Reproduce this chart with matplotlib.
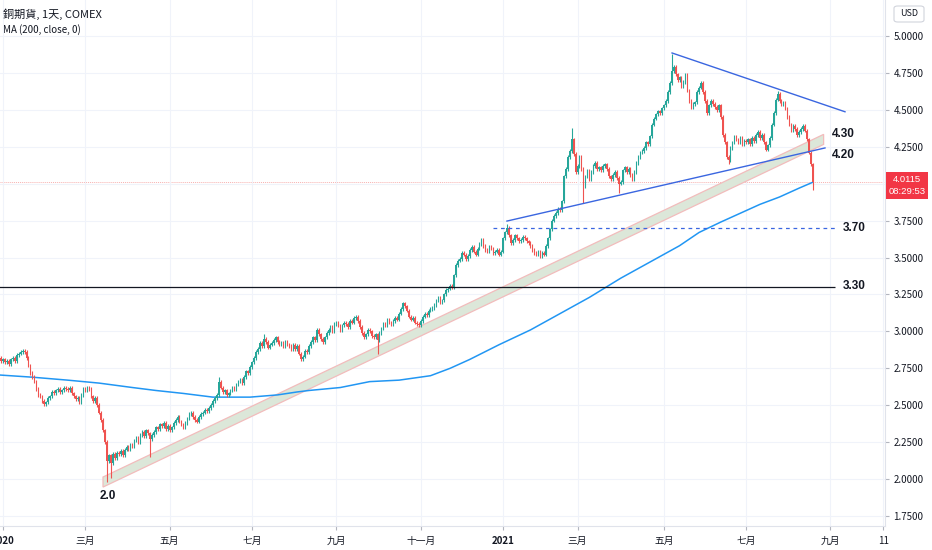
import numpy as np
import matplotlib
matplotlib.use("Agg")
import matplotlib.pyplot as plt
from matplotlib.patches import Polygon, Rectangle, FancyBboxPatch

# cierres diarios (HG, COMEX), una lista por mes
dic19 = [2.82, 2.80]
ene20 = [2.81, 2.79, 2.80, 2.78, 2.81, 2.82, 2.80, 2.84, 2.85, 2.86, 2.87, 2.86, 2.82, 2.77, 2.72, 2.69, 2.66, 2.61, 2.57, 2.56, 2.53, 2.51]
feb20 = [2.52, 2.55, 2.56, 2.59, 2.58, 2.60, 2.61, 2.59, 2.60, 2.62, 2.61, 2.60, 2.62, 2.58, 2.56, 2.54, 2.55, 2.52, 2.57, 2.61]
mar20 = [2.60, 2.62, 2.61, 2.56, 2.53, 2.55, 2.50, 2.45, 2.40, 2.33, 2.25, 2.12, 2.16, 2.11, 2.17, 2.14, 2.18, 2.17, 2.19, 2.16, 2.20, 2.22]
abr20 = [2.20, 2.23, 2.22, 2.26, 2.28, 2.25, 2.30, 2.32, 2.29, 2.33, 2.31, 2.27, 2.30, 2.32, 2.35, 2.34, 2.37, 2.36, 2.38, 2.34, 2.36]
may20 = [2.33, 2.35, 2.38, 2.40, 2.42, 2.39, 2.37, 2.35, 2.38, 2.41, 2.44, 2.45, 2.42, 2.40, 2.39, 2.42, 2.44, 2.45, 2.47, 2.46]
jun20 = [2.48, 2.50, 2.53, 2.55, 2.57, 2.66, 2.62, 2.59, 2.60, 2.57, 2.58, 2.60, 2.62, 2.61, 2.64, 2.66, 2.67, 2.65, 2.69, 2.73, 2.72, 2.76]
jul20 = [2.79, 2.82, 2.86, 2.88, 2.92, 2.90, 2.95, 2.93, 2.89, 2.91, 2.92, 2.94, 2.96, 2.93, 2.91, 2.92, 2.90, 2.93, 2.91, 2.90, 2.88, 2.91]
ago20 = [2.88, 2.90, 2.85, 2.81, 2.83, 2.87, 2.86, 2.90, 2.93, 2.96, 2.94, 3.01, 2.98, 2.95, 2.93, 2.96, 2.99, 3.01, 3.03, 3.00, 3.05]
sep20 = [3.06, 3.04, 3.01, 3.04, 3.06, 3.05, 3.03, 3.07, 3.06, 3.09, 3.10, 3.07, 3.03, 2.99, 2.96, 2.98, 3.01, 3.00, 2.97, 2.96, 2.98]
oct20 = [2.94, 2.99, 3.02, 3.05, 3.04, 3.08, 3.06, 3.05, 3.07, 3.09, 3.08, 3.12, 3.15, 3.19, 3.17, 3.14, 3.10, 3.08, 3.09, 3.06, 3.05, 3.04]
nov20 = [3.07, 3.10, 3.12, 3.11, 3.14, 3.15, 3.16, 3.18, 3.21, 3.23, 3.20, 3.21, 3.25, 3.28, 3.29, 3.31, 3.30, 3.38, 3.45, 3.48]
dic20 = [3.49, 3.53, 3.52, 3.49, 3.51, 3.55, 3.57, 3.54, 3.52, 3.56, 3.59, 3.62, 3.58, 3.55, 3.54, 3.57, 3.56, 3.53, 3.54, 3.55, 3.52, 3.54]
ene21 = [3.63, 3.67, 3.70, 3.65, 3.60, 3.62, 3.65, 3.63, 3.61, 3.62, 3.64, 3.63, 3.61, 3.60, 3.58, 3.55, 3.53, 3.52, 3.54]
feb21 = [3.51, 3.53, 3.52, 3.58, 3.63, 3.69, 3.75, 3.78, 3.80, 3.83, 3.82, 3.88, 4.05, 4.10, 4.18, 4.22, 4.30, 4.20, 4.08]
mar21 = [4.12, 4.18, 4.10, 3.98, 4.05, 4.09, 4.03, 4.08, 4.12, 4.14, 4.10, 4.11, 4.09, 4.12, 4.13, 4.10, 4.05, 4.03, 4.06, 4.08, 4.04, 4.00, 4.01]
abr21 = [4.09, 4.11, 4.08, 4.10, 4.06, 4.03, 4.08, 4.14, 4.18, 4.21, 4.22, 4.24, 4.28, 4.27, 4.32, 4.40, 4.44, 4.47, 4.49, 4.48, 4.51]
may21 = [4.53, 4.56, 4.62, 4.68, 4.76, 4.79, 4.74, 4.70, 4.72, 4.66, 4.69, 4.74, 4.63, 4.56, 4.52, 4.54, 4.55, 4.62, 4.65, 4.68]
jun21 = [4.62, 4.56, 4.48, 4.53, 4.56, 4.54, 4.52, 4.50, 4.53, 4.45, 4.33, 4.28, 4.18, 4.16, 4.24, 4.28, 4.32, 4.30, 4.28, 4.31, 4.27, 4.29]
jul21 = [4.28, 4.30, 4.27, 4.31, 4.29, 4.33, 4.35, 4.31, 4.33, 4.28, 4.23, 4.26, 4.31, 4.40, 4.48, 4.57, 4.61, 4.56, 4.54, 4.55, 4.51]
ago21 = [4.45, 4.40, 4.36, 4.39, 4.37, 4.33, 4.35, 4.37, 4.39, 4.36, 4.30, 4.21, 4.13, 4.0115]

apertura_inicial = 2.83

meses = [dic19, ene20, feb20, mar20, abr20, may20, jun20, jul20, ago20, sep20, oct20, nov20,
         dic20, ene21, feb21, mar21, abr21, may21, jun21, jul21, ago21]
nombres = ["dic19", "ene20", "feb20", "mar20", "abr20", "may20", "jun20", "jul20", "ago20", "sep20", "oct20",
           "nov20", "dic20", "ene21", "feb21", "mar21", "abr21", "may21", "jun21", "jul21", "ago21"]
etiquetas_mes = {"ene20": "2020", "mar20": "三月", "may20": "五月", "jul20": "七月", "sep20": "九月",
                 "nov20": "十一月", "ene21": "2021", "mar21": "三月", "may21": "五月", "jul21": "七月"}
# marcas futuras: barras despues de la ultima vela
futuro_barras = [9, 36]
futuro_etiquetas = ["九月", "11"]

# mechas largas visibles (mes, posicion, precio)
mechas_altas = [("jun20", 5, 2.69), ("jul20", 6, 2.98), ("ene21", 2, 3.73), ("feb21", 16, 4.38),
                ("may21", 4, 4.88), ("jul21", 16, 4.63)]
mechas_bajas = [("mar20", 11, 1.98), ("mar20", 13, 2.01), ("abr20", 11, 2.15), ("oct20", 0, 2.85),
                ("mar21", 3, 3.87), ("mar21", 21, 3.94), ("jun21", 13, 4.13), ("ago21", 13, 3.96)]

# media movil 200 (indice de barra, valor)
ma_barra = [0, 17, 35, 51, 68, 80, 94, 109, 128, 142, 152, 158, 174, 189, 204, 220, 230, 240,
            255, 271, 286, 301, 317, 332, 347, 357, 368, 378, 388, 398, 408, 415]
ma_valor = [2.705, 2.69, 2.67, 2.65, 2.62, 2.60, 2.58, 2.555, 2.555, 2.57, 2.59, 2.60, 2.62, 2.66, 2.67, 2.70,
            2.75, 2.81, 2.91, 3.01, 3.12, 3.23, 3.36, 3.47, 3.58, 3.67, 3.74, 3.80, 3.86, 3.91, 3.97, 4.01]

# lineas dibujadas (barra, precio)
soporte = ([259, 421.2], [3.747, 4.242])
resistencia = ([343.2, 431.4], [4.885, 4.487])
canal = ([53, 420.5], [1.98, 4.30])
canal_grosor = 0.068
nivel_330 = (3.30, 0, 426.3)
nivel_370 = (3.70, 252, 426.3)
textos = [("4.30", 424.7, 4.335), ("4.20", 424.7, 4.195), ("3.70", 430.3, 3.70),
          ("3.30", 430.3, 3.305), ("2.0", 51.5, 1.885)]

precio_actual = "4.0115"
cuenta_atras = "08:29:53"

plt.rcParams['font.family'] = ['Noto Sans CJK TC', 'DejaVu Sans']

verde = "#26a69a"
rojo = "#ef5350"
mecha = 0.012

cierres = np.concatenate([np.array(m, dtype=float) for m in meses])
n = len(cierres)
x = np.arange(n)
aperturas = np.r_[apertura_inicial, cierres[:-1]]
inicio = dict(zip(nombres, np.cumsum([0] + [len(m) for m in meses[:-1]])))

altos = np.maximum(aperturas, cierres) + mecha
bajos = np.minimum(aperturas, cierres) - mecha
for mes, k, p in mechas_altas:
    altos[inicio[mes] + k] = p
for mes, k, p in mechas_bajas:
    bajos[inicio[mes] + k] = p

fig = plt.figure(figsize=(9.32, 5.5), dpi=100)
ax = fig.add_axes([0, 24 / 550, 885 / 932, 526 / 550])

sube = cierres >= aperturas
colores = np.where(sube, verde, rojo)
cuerpo = np.abs(cierres - aperturas)
cuerpo = np.maximum(cuerpo, 0.005)
ax.vlines(x, bajos, altos, colors=colores, lw=0.8, zorder=4)
ax.bar(x, cuerpo, bottom=np.minimum(aperturas, cierres), width=0.72, color=colores, lw=0, zorder=5)

# media movil
ax.plot(ma_barra, ma_valor, color="#2196f3", lw=1.1, zorder=3)

# canal diagonal
x0, x1 = canal[0]
y0, y1 = canal[1]
g = canal_grosor / 2
banda = Polygon([(x0, y0 - g), (x1, y1 - g), (x1, y1 + g), (x0, y0 + g)], closed=True,
                facecolor="#dce7d9", edgecolor="#f2bcbc", lw=0.9, zorder=2)
ax.add_patch(banda)

ax.plot(soporte[0], soporte[1], color="#3a66e0", lw=1.0, zorder=6)
ax.plot(resistencia[0], resistencia[1], color="#3a66e0", lw=1.0, zorder=6)
ax.hlines(nivel_330[0], nivel_330[1], nivel_330[2], color="#131722", lw=0.9, zorder=6)
ax.hlines(nivel_370[0], nivel_370[1], nivel_370[2], color="#3a66e0", lw=0.9, linestyles=(0, (3, 3)), zorder=6)
ax.axhline(float(precio_actual), color="#ef5350", lw=0.7, alpha=0.45, ls=(0, (1, 1)), zorder=1)

for t, tx, ty in textos:
    ax.text(tx, ty, t, fontsize=8.5, fontweight="bold", color="#131722",
            family=["Liberation Sans", "DejaVu Sans"], ha="left", va="center", zorder=7)

# ejes
ax.set_xlim(0.47, 451.8)
ax.set_ylim(1.6825, 5.2437)
ax.yaxis.tick_right()
niveles = np.arange(1.75, 5.01, 0.25)
ax.set_yticks(niveles)
# la etiqueta 4.0000 queda tapada por la del precio actual
ax.set_yticklabels(["" if abs(v - 4.0) < 1e-9 else f"{v:.4f}" for v in niveles])

pos = [inicio[k] for k in etiquetas_mes]
lab = list(etiquetas_mes.values())
for b, e in zip(futuro_barras, futuro_etiquetas):
    pos.append(n - 1 + b)
    lab.append(e)
ax.set_xticks(pos)
ax.set_xticklabels(lab)
for t in ax.get_xticklabels():
    if t.get_text() in ("2020", "2021"):
        t.set_fontweight("bold")

ax.tick_params(axis="y", length=3, color="#b2b5be", labelsize=7, labelcolor="#131722", pad=3)
ax.tick_params(axis="x", length=3, color="#b2b5be", labelsize=7, labelcolor="#131722", pad=4)
ax.grid(True, color="#f0f3fa", lw=0.8, zorder=0)
for s in ["top", "left"]:
    ax.spines[s].set_visible(False)
for s in ["right", "bottom"]:
    ax.spines[s].set_color("#e0e3eb")
    ax.spines[s].set_linewidth(0.8)

# encabezado
fig.text(3 / 932, 1 - 14 / 550, "銅期貨, 1天, COMEX", fontsize=8, color="#131722", va="center")
fig.text(3 / 932, 1 - 30 / 550, "MA (200, close, 0)", fontsize=7, color="#131722", va="center")

# caja USD
fig.add_artist(FancyBboxPatch((894 / 932, 1 - 22 / 550), 30 / 932, 16 / 550, boxstyle="round,pad=0,rounding_size=0.004",
                              transform=fig.transFigure, facecolor="white", edgecolor="#d1d4dc", lw=0.8))
fig.text(909 / 932, 1 - 14 / 550, "USD", fontsize=6.5, color="#131722", ha="center", va="center")

# etiqueta precio actual
fig.add_artist(Rectangle((886 / 932, 1 - 199 / 550), 42 / 932, 27 / 550, transform=fig.transFigure,
                         facecolor="#f23645", edgecolor="none"))
fig.text(907 / 932, 1 - 179 / 550, precio_actual, fontsize=6.8, color="white", ha="center", va="center",
         family=["Liberation Sans", "DejaVu Sans"])
fig.text(907 / 932, 1 - 192 / 550, cuenta_atras, fontsize=6.8, color="white", ha="center", va="center",
         family=["Liberation Sans", "DejaVu Sans"])

fig.savefig("out.png", dpi=100)
